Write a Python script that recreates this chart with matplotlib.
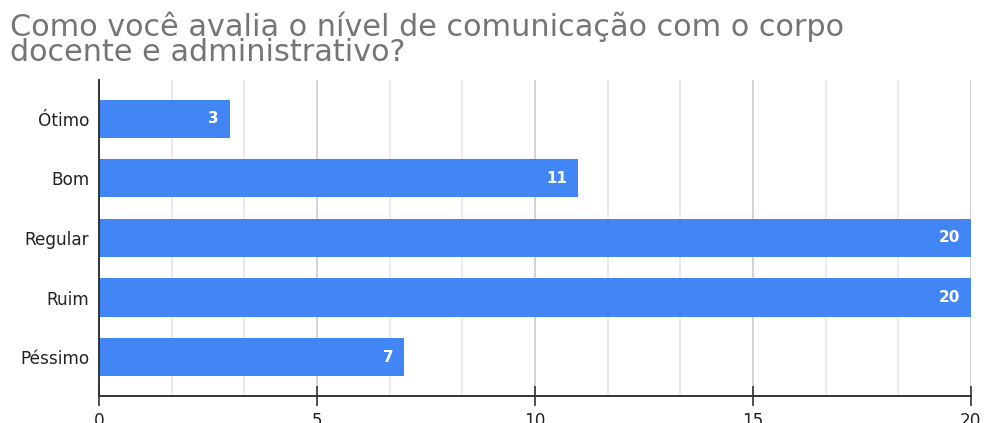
import numpy as np
import matplotlib.pyplot as plt
from matplotlib.ticker import MultipleLocator

plt.rcParams['font.family'] = ['DejaVu Sans']

categories = ['Ótimo', 'Bom', 'Regular', 'Ruim', 'Péssimo']
counts = [3, 11, 20, 20, 7]
title = 'Como você avalia o nível de comunicação com o corpo\ndocente e administrativo?'

bar_color = '#4285F4'

fig = plt.figure(figsize=(9.84, 4.23), dpi=100)
ax = fig.add_axes([0.1006, 0.064, 0.886, 0.747])

y = np.arange(len(categories))
ax.barh(y, counts, height=0.64, color=bar_color, zorder=3)

for yi, v in zip(y, counts):
    ax.text(v - 0.25, yi, str(v), color='white', ha='right', va='center',
            fontsize=11, fontweight='bold', zorder=4)

ax.set_xlim(0, 20)
ax.set_ylim(len(categories) - 0.35, -0.65)
ax.set_yticks(y)
ax.set_yticklabels(categories, fontsize=12.2, color='#222222')
ax.tick_params(axis='y', length=0, pad=7)

ax.xaxis.set_major_locator(MultipleLocator(5))
ax.xaxis.set_minor_locator(MultipleLocator(5 / 3))
ax.tick_params(axis='x', which='major', direction='inout', length=15, width=1.2,
               color='#333333', labelsize=12.2, labelcolor='#222222', pad=4)
ax.tick_params(axis='x', which='minor', length=0)
ax.grid(axis='x', which='major', color='#cccccc', linewidth=1.2, zorder=0)
ax.grid(axis='x', which='minor', color='#e6e6e6', linewidth=1.2, zorder=0)

for side in ['top', 'right']:
    ax.spines[side].set_visible(False)
ax.spines['left'].set_color('#333333')
ax.spines['left'].set_linewidth(1.4)
ax.spines['bottom'].set_color('#333333')
ax.spines['bottom'].set_linewidth(1.4)
ax.spines['left'].set_zorder(5)

fig.text(0.010, 0.972, title, ha='left', va='top', fontsize=21.8,
         color='#757575', linespacing=0.82)

fig.savefig('out.png', dpi=100)
